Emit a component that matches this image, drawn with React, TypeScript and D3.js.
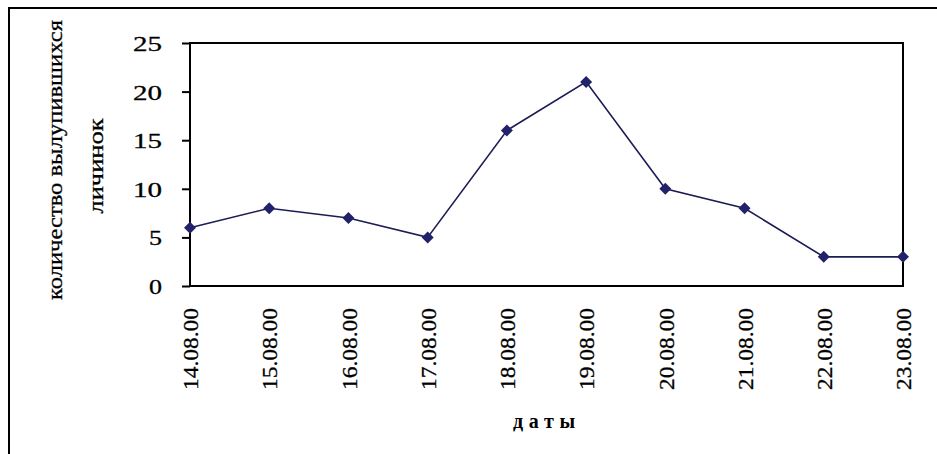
import React, { useEffect, useRef } from 'react';
import * as d3 from 'd3';

const dates = ["14.08.00", "15.08.00", "16.08.00", "17.08.00", "18.08.00", "19.08.00", "20.08.00", "21.08.00", "22.08.00", "23.08.00"];
const larvae = [6, 8, 7, 5, 16, 21, 10, 8, 3, 3];
const yTicks = [0, 5, 10, 15, 20, 25];

const W = 937;
const H = 454;
const FONT = "'Liberation Serif', 'Times New Roman', serif";

const App: React.FC = () => {
  const ref = useRef<SVGSVGElement | null>(null);

  useEffect(() => {
    if (!ref.current) return;
    const svg = d3.select(ref.current);
    svg.selectAll("*").remove();

    const left = 190, right = 903, top = 43, bottom = 286;

    // outer frame (runs off the right and bottom of the picture)
    svg.append("rect")
      .attr("x", 9).attr("y", 8)
      .attr("width", W + 20).attr("height", H + 20)
      .attr("fill", "#fff").attr("stroke", "#000").attr("stroke-width", 2);

    const x = d3.scalePoint<string>().domain(dates).range([left, right]);
    const y = d3.scaleLinear().domain([0, 25]).range([bottom, top]);

    // plot box
    svg.append("rect")
      .attr("x", left).attr("y", top)
      .attr("width", right - left).attr("height", bottom - top)
      .attr("fill", "none").attr("stroke", "#000").attr("stroke-width", 2);

    // y axis
    const yAxis = svg.append("g")
      .attr("transform", `translate(${left},0)`)
      .call(d3.axisLeft(y).tickValues(yTicks).tickSize(8).tickPadding(20).tickFormat(d3.format("d")));
    yAxis.select(".domain").remove();
    yAxis.selectAll(".tick line").attr("stroke", "#000").attr("stroke-width", 2);
    yAxis.selectAll<SVGTextElement, number>(".tick text")
      .attr("font-family", FONT)
      .attr("font-size", 21)
      .attr("fill", "#000")
      .attr("stroke", "#000")
      .attr("stroke-width", 0.3)
      .attr("dy", "0.36em")
      .attr("textLength", d => (d >= 10 ? 29 : 13))
      .attr("lengthAdjust", "spacingAndGlyphs");

    // x axis labels (rotated)
    const xAxis = svg.append("g")
      .attr("transform", `translate(0,${bottom})`)
      .call(d3.axisBottom(x).tickSize(0).tickPadding(0));
    xAxis.select(".domain").remove();
    xAxis.selectAll<SVGTextElement, string>(".tick text")
      .attr("font-family", FONT)
      .attr("font-size", 22)
      .attr("fill", "#000")
      .attr("stroke", "#000")
      .attr("stroke-width", 0.3)
      .attr("text-anchor", "end")
      .attr("transform", "rotate(-90)")
      .attr("x", -22)
      .attr("y", 0)
      .attr("dy", "0.35em")
      .attr("textLength", 82)
      .attr("lengthAdjust", "spacingAndGlyphs");

    // line and markers
    const pts = dates.map((d, i) => [x(d) as number, y(larvae[i])] as [number, number]);
    svg.append("path")
      .attr("d", d3.line()(pts))
      .attr("fill", "none")
      .attr("stroke", "#1c1c55")
      .attr("stroke-width", 1.6);

    svg.append("g")
      .selectAll("path")
      .data(pts)
      .join("path")
      .attr("transform", d => `translate(${d[0]},${d[1]}) rotate(45)`)
      .attr("d", d3.symbol(d3.symbolSquare, 72)())
      .attr("fill", "#22226a");

    // axis titles
    svg.append("text")
      .attr("transform", "translate(62,160) rotate(-90)")
      .attr("text-anchor", "middle")
      .attr("font-family", FONT)
      .attr("font-size", 22)
      .attr("stroke", "#000")
      .attr("stroke-width", 0.3)
      .attr("textLength", 280)
      .attr("lengthAdjust", "spacingAndGlyphs")
      .text("количество вылупившихся");

    svg.append("text")
      .attr("transform", "translate(103,166) rotate(-90)")
      .attr("text-anchor", "middle")
      .attr("font-family", FONT)
      .attr("font-size", 22)
      .attr("stroke", "#000")
      .attr("stroke-width", 0.3)
      .attr("textLength", 95)
      .attr("lengthAdjust", "spacingAndGlyphs")
      .text("личинок");

    svg.append("text")
      .attr("x", 544)
      .attr("y", 428)
      .attr("text-anchor", "middle")
      .attr("font-family", FONT)
      .attr("font-size", 20)
      .attr("font-weight", "bold")
      .attr("textLength", 62)
      .attr("lengthAdjust", "spacing")
      .text("даты");
  }, []);

  return (
    <svg
      ref={ref}
      width={W}
      height={H}
      style={{ position: "absolute", left: 0, top: 0, background: "#fff" }}
    />
  );
};

export default App;
